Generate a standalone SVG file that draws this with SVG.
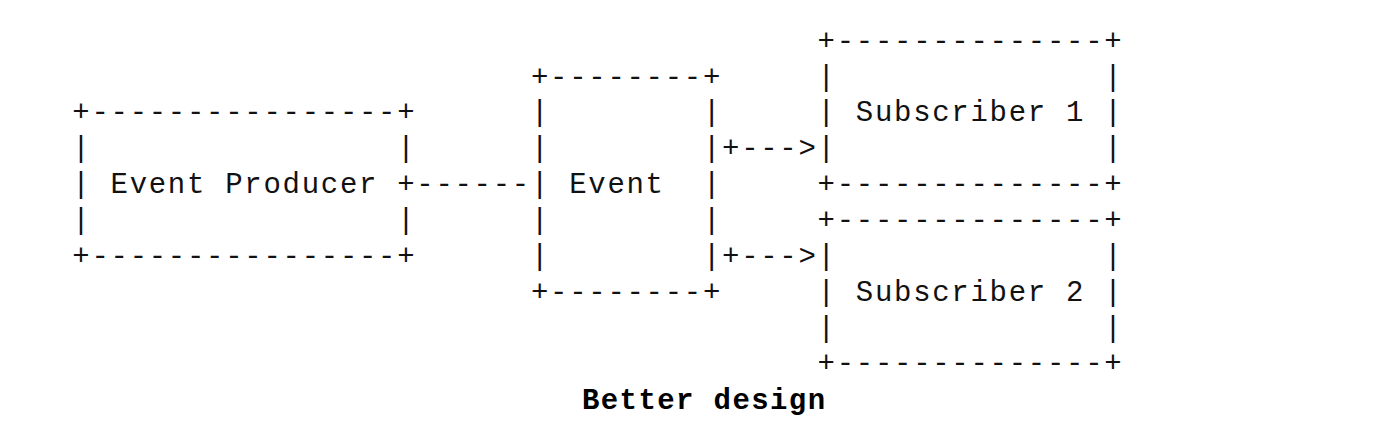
<svg xmlns="http://www.w3.org/2000/svg" width="1400" height="448" viewBox="0 0 1400 448" xml:space="preserve">
<style>
.m{font-family:"Liberation Mono","DejaVu Sans Mono",monospace;font-size:29px;letter-spacing:1.71px;fill:#111;white-space:pre}
.cap{font-family:"Liberation Mono","DejaVu Sans Mono",monospace;font-size:29px;font-weight:bold;letter-spacing:1.4px;fill:#000;white-space:pre}
</style>
<rect width="1400" height="448" fill="#fff"/>
<g id="producer">
<text class="m" x="72.3" y="121.4">+----------------+</text>
<text class="m" x="72.3" y="157.25">|</text><text class="m" x="397.17" y="157.25">|</text>
<text class="m" x="72.3" y="193.1">| Event Producer +</text>
<text class="m" x="72.3" y="228.95">|</text><text class="m" x="397.17" y="228.95">|</text>
<text class="m" x="72.3" y="264.8">+----------------+</text>
</g>
<g id="event">
<text class="m" x="530.94" y="85.55">+--------+</text>
<text class="m" x="530.94" y="121.4">|</text><text class="m" x="702.93" y="121.4">|</text>
<text class="m" x="530.94" y="157.25">|</text><text class="m" x="702.93" y="157.25">|</text>
<text class="m" x="530.94" y="193.1">| Event  |</text>
<text class="m" x="530.94" y="228.95">|</text><text class="m" x="702.93" y="228.95">|</text>
<text class="m" x="530.94" y="264.8">|</text><text class="m" x="702.93" y="264.8">|</text>
<text class="m" x="530.94" y="300.65">+--------+</text>
</g>
<g id="subscriber1">
<text class="m" x="817.59" y="49.7">+--------------+</text>
<text class="m" x="817.59" y="85.55">|</text><text class="m" x="1104.24" y="85.55">|</text>
<text class="m" x="817.59" y="121.4">| Subscriber 1 |</text>
<text class="m" x="817.59" y="157.25">|</text><text class="m" x="1104.24" y="157.25">|</text>
<text class="m" x="817.59" y="193.1">+--------------+</text>
</g>
<g id="subscriber2">
<text class="m" x="817.59" y="228.95">+--------------+</text>
<text class="m" x="817.59" y="264.8">|</text><text class="m" x="1104.24" y="264.8">|</text>
<text class="m" x="817.59" y="300.65">| Subscriber 2 |</text>
<text class="m" x="817.59" y="336.5">|</text><text class="m" x="1104.24" y="336.5">|</text>
<text class="m" x="817.59" y="372.35">+--------------+</text>
</g>
<g id="connectors">
<text class="m" x="416.28" y="193.1">------</text>
<text class="m" x="722.04" y="157.25">+---&gt;</text>
<text class="m" x="722.04" y="264.8">+---&gt;</text>
</g>
<g id="caption">
<text class="cap" x="582" y="409.3">Better design</text>
</g>
</svg>
